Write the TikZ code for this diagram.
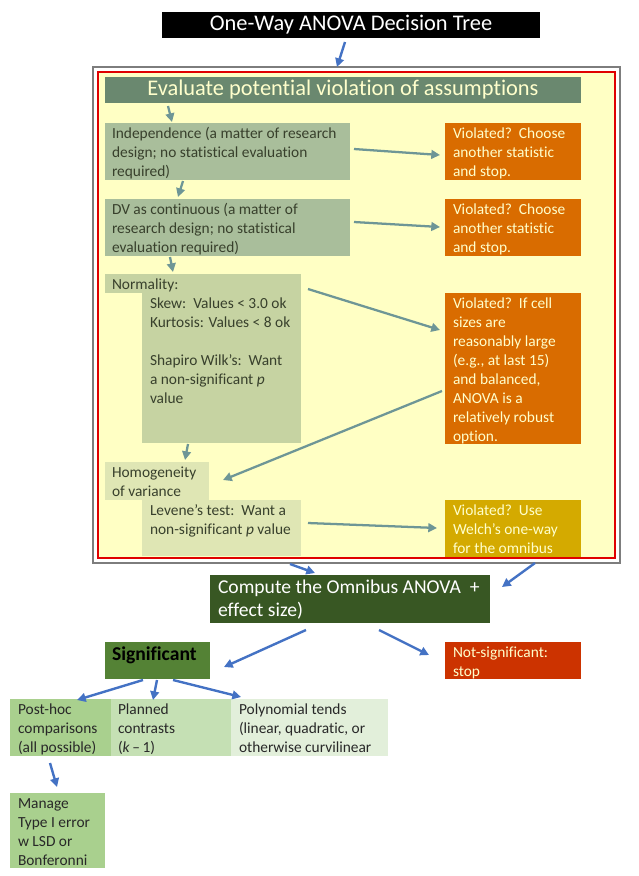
\documentclass[tikz,border=0pt]{standalone}
\usepackage{fontspec}
\setmainfont{Carlito}[Ligatures=NoCommon]
\usetikzlibrary{arrows.meta,calc}
\newdimen\px \px=0.75pt
\definecolor{bgyellow}{RGB}{255,255,196}
\definecolor{frgray}{RGB}{125,125,125}
\definecolor{frred}{RGB}{224,0,0}
\definecolor{hdrgreen}{RGB}{106,136,111}
\definecolor{ltyellow}{RGB}{255,255,204}
\definecolor{sage}{RGB}{169,190,155}
\definecolor{normfill}{RGB}{198,211,162}
\definecolor{homfill}{RGB}{223,230,180}
\definecolor{darktext}{RGB}{56,64,44}
\definecolor{orangebox}{RGB}{217,108,0}
\definecolor{goldbox}{RGB}{212,170,0}
\definecolor{omnigreen}{RGB}{56,87,35}
\definecolor{siggreen}{RGB}{84,130,53}
\definecolor{notsigred}{RGB}{204,51,0}
\definecolor{phgreen}{RGB}{169,208,142}
\definecolor{plgreen}{RGB}{197,224,180}
\definecolor{pogreen}{RGB}{226,239,218}
\definecolor{gtext}{RGB}{40,40,40}
\definecolor{arrteal}{RGB}{110,150,150}
\definecolor{arrblue}{RGB}{68,114,196}
\newcommand\fbody{\fontsize{11.55}{14.25}\selectfont}
\newcommand\fmid{\fontsize{14.7}{17.9}\selectfont}
\newcommand\fbig{\fontsize{16.8}{20}\selectfont}
% \bt[pad]{width}{height}{first baseline}{text}
\newcommand\bt[5][7]{\parbox[t][#3\px][t]{#2\px}{\raggedright\leftskip=#1\px\relax\rule{0pt}{#4\px}#5\par}}
\tikzset{
  bx/.style 2 args={anchor=north west, inner sep=0pt, outer sep=0pt,
    minimum width=#1*0.75pt, minimum height=#2*0.75pt},
  tarr/.style={draw=arrteal, line width=1.7pt, -{Triangle[length=6.5pt,width=6.5pt]}},
  barr/.style={draw=arrblue, line width=1.8pt, -{Triangle[length=6.5pt,width=6.5pt]}},
}
\begin{document}
\begin{tikzpicture}[x=0.75pt,y=-0.75pt]
\fill[white] (0,0) rectangle (639,876);
\useasboundingbox (0,0) rectangle (639,876);

% title
\node[bx={378}{26}, fill=black, text=white, font=\fbig] (title) at (162,12) {One-Way ANOVA Decision Tree};

% frame
\node[bx={527}{496}, draw=frgray, line width=1.5pt] (frame) at (93,67) {};
\node[bx={517.5}{486}, draw=frred, line width=1.5pt, fill=bgyellow] (panel) at (97.5,72) {};

% header
\node[bx={476}{26}, fill=hdrgreen, text=ltyellow, font=\fbig] (header) at (105,77) {Evaluate potential violation of assumptions};

% left column
\node[bx={245}{57}, fill=sage, text=darktext, font=\fbody] (indep) at (105,123)
  {\bt{245}{57}{15}{Independence (a matter of research\\design; no statistical evaluation\\required)}};
\node[bx={245}{57}, fill=sage, text=darktext, font=\fbody] (dv) at (105,199)
  {\bt{245}{57}{15}{DV as continuous (a matter of\\research design; no statistical\\evaluation required)}};
\node[bx={196}{19}, fill=normfill, text=darktext, font=\fbody] (normlabel) at (105,274)
  {\bt{196}{19}{15}{Normality:}};
\node[bx={159}{150}, fill=normfill, text=darktext, font=\fbody] (normbody) at (142,293)
  {\bt[8]{159}{150}{15}{Skew:\ \ Values < 3.0 ok\\Kurtosis: Values < 8 ok\\[14.25pt]Shapiro Wilk’s:\ \ Want\\a non-significant \textit{p}\\value}};
\node[bx={104}{38}, fill=homfill, text=darktext, font=\fbody] (homog) at (105,462)
  {\bt{104}{38}{15}{Homogeneity\\of variance}};
\node[bx={159}{56}, fill=homfill, text=darktext, font=\fbody] (levene) at (142,500)
  {\bt[8]{159}{56}{15}{Levene’s test:\ \ Want a\\non-significant \textit{p} value}};

% right column
\node[bx={136}{57}, fill=orangebox, text=ltyellow, font=\fbody] (viol1) at (445,123)
  {\bt[8]{136}{57}{15}{Violated?\ \ Choose\\another statistic\\and stop.}};
\node[bx={136}{57}, fill=orangebox, text=ltyellow, font=\fbody] (viol2) at (445,199)
  {\bt[8]{136}{57}{15}{Violated?\ \ Choose\\another statistic\\and stop.}};
\node[bx={136}{151}, fill=orangebox, text=ltyellow, font=\fbody] (viol3) at (445,293)
  {\bt[8]{136}{151}{15}{Violated?\ \ If cell\\sizes are\\reasonably large\\(e.g., at last 15)\\and balanced,\\ANOVA is a\\relatively robust\\option.}};
\node[bx={136}{57}, fill=goldbox, text=ltyellow, font=\fbody] (viol4) at (445,500)
  {\bt[8]{136}{57}{15}{Violated?\ \ Use\\Welch’s one-way\\for the omnibus}};

% lower part
\node[bx={280}{48}, fill=omnigreen, text=white, font=\fmid] (omnibus) at (210,575)
  {\bt[8]{280}{48}{18}{Compute the Omnibus ANOVA\ \ +\\effect size)}};
\node[bx={105}{37}, fill=siggreen, text=black, font=\fmid\bfseries] (sig) at (105,642)
  {\bt[7]{105}{37}{18}{Significant}};
\node[bx={136}{37}, fill=notsigred, text=ltyellow, font=\fbody] (notsig) at (445,642)
  {\bt[8]{136}{37}{15}{Not-significant:\\stop}};
\node[bx={101}{57}, fill=phgreen, text=gtext, font=\fbody] (posthoc) at (10,699)
  {\bt[8]{101}{57}{15}{Post-hoc\\comparisons\\(all possible)}};
\node[bx={120}{57}, fill=plgreen, text=gtext, font=\fbody] (planned) at (111,699)
  {\bt[7]{120}{57}{15}{Planned\\contrasts\\(\textit{k}\,–\,1)}};
\node[bx={157}{57}, fill=pogreen, text=gtext, font=\fbody] (poly) at (231,699)
  {\bt[8]{157}{57}{15}{Polynomial tends\\(linear, quadratic, or\\otherwise curvilinear}};
\node[bx={95}{75}, fill=phgreen, text=gtext, font=\fbody] (manage) at (10,793)
  {\bt[8]{95}{75}{15}{Manage\\Type I error\\w LSD or\\Bonferonni}};

% connectors inside the frame
\draw[tarr] ($(header.south west)+(63,3)$) -- ($(indep.north west)+(67,-1)$);
\draw[tarr] ($(indep.east)+(4,-2.5)$) -- ($(viol1.west)+(-5,3.5)$);
\draw[tarr] ($(indep.south west)+(78,1)$) -- ($(dv.north west)+(73,-2)$);
\draw[tarr] ($(dv.east)+(4,-5.5)$) -- ($(viol2.west)+(-5,-0.5)$);
\draw[tarr] ($(dv.south west)+(65,1)$) -- ($(normlabel.north west)+(68,-2)$);
\draw[tarr] ($(normlabel.east)+(7,5.5)$) -- ($(viol3.west)+(-5,-38.5)$);
\draw[tarr] ($(viol3.west)+(-3,22.5)$) -- ($(homog.east)+(14,-1)$);
\draw[tarr] ($(normbody.south west)+(46,1)$) -- ($(homog.north west)+(80,-2)$);
\draw[tarr] ($(levene.east)+(7,-5)$) -- ($(viol4.west)+(-8,-0.5)$);

% blue connectors
\draw[barr] ($(title.south)+(-6,4)$) -- ($(frame.north)+(-19.5,0)$);
\draw[barr] ($(frame.south)+(-66.5,1)$) -- ($(omnibus.north west)+(105,-2)$);
\draw[barr] ($(viol4.south)+(22,6)$) -- ($(omnibus.east)+(12,-12)$);
\draw[barr] ($(omnibus.south west)+(96,7)$) -- ($(sig.east)+(14,6.5)$);
\draw[barr] ($(omnibus.south west)+(169,7)$) -- ($(notsig.west)+(-16,-5.5)$);
\draw[barr] ($(sig.south west)+(38,1)$) -- ($(posthoc.north west)+(67,1)$);
\draw[barr] ($(sig.south west)+(52,1)$) -- ($(planned.north west)+(42,1)$);
\draw[barr] ($(sig.south west)+(68,1)$) -- ($(poly.north west)+(10,-2)$);
\draw[barr] ($(posthoc.south west)+(40,7)$) -- ($(manage.north west)+(47,-6)$);
\end{tikzpicture}
\end{document}
